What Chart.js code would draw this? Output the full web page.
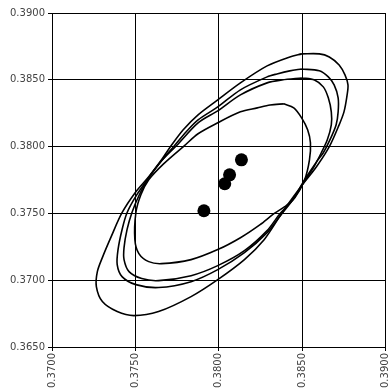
<!DOCTYPE html>
<html>
<head>
<meta charset="utf-8">
<script src="https://cdn.jsdelivr.net/npm/chart.js@4.4.0/dist/chart.umd.min.js"></script>
<style>
  html, body { margin: 0; padding: 0; background: #fff; overflow: hidden; }
  #wrap { position: relative; width: 392px; height: 389px; }
</style>
</head>
<body>
<div id="wrap"><canvas id="chart"></canvas></div>
<script>
// tick labels
const xTicks = [0.370, 0.375, 0.380, 0.385, 0.390];
const yTicks = [0.365, 0.370, 0.375, 0.380, 0.385, 0.390];

// the four estimates (filled dots)
const dotX = [0.37911, 0.38036, 0.38065, 0.38136];
const dotY = [0.37520, 0.37722, 0.37789, 0.37901];

// ellipse outlines, outermost first
const ell1X = [0.38497, 0.38603, 0.38663, 0.38722, 0.38757, 0.38775, 0.38769, 0.38751, 0.38722, 0.38663, 0.38586, 0.38497, 0.38426, 0.38361, 0.38272, 0.38154, 0.37994, 0.37834, 0.37639, 0.37491, 0.37391, 0.37302, 0.37266, 0.37272, 0.37302, 0.37355, 0.37420, 0.37503, 0.37580, 0.37657, 0.37710, 0.37787, 0.37876, 0.37994, 0.38130, 0.38290, 0.38426, 0.38497];
const ell1Y = [0.38694, 0.38694, 0.38671, 0.38611, 0.38537, 0.38462, 0.38380, 0.38260, 0.38163, 0.37999, 0.37849, 0.37707, 0.37587, 0.37468, 0.37303, 0.37154, 0.37004, 0.36877, 0.36765, 0.36735, 0.36765, 0.36840, 0.36952, 0.37064, 0.37169, 0.37326, 0.37505, 0.37662, 0.37774, 0.37901, 0.37999, 0.38126, 0.38238, 0.38350, 0.38477, 0.38604, 0.38671, 0.38694];

const ell2X = [0.38497, 0.38603, 0.38657, 0.38692, 0.38716, 0.38716, 0.38704, 0.38675, 0.38627, 0.38586, 0.38515, 0.38444, 0.38373, 0.38290, 0.38154, 0.37994, 0.37834, 0.37639, 0.37503, 0.37420, 0.37391, 0.37396, 0.37420, 0.37450, 0.37509, 0.37580, 0.37657, 0.37734, 0.37805, 0.37876, 0.37994, 0.38130, 0.38290, 0.38349, 0.38426, 0.38497];
const ell2Y = [0.38581, 0.38567, 0.38522, 0.38462, 0.38365, 0.38260, 0.38163, 0.38073, 0.37954, 0.37886, 0.37752, 0.37602, 0.37490, 0.37356, 0.37206, 0.37079, 0.36989, 0.36945, 0.36967, 0.37027, 0.37117, 0.37229, 0.37378, 0.37505, 0.37640, 0.37767, 0.37894, 0.38006, 0.38111, 0.38200, 0.38297, 0.38425, 0.38522, 0.38544, 0.38567, 0.38581];

const ell3X = [0.38497, 0.38574, 0.38627, 0.38657, 0.38675, 0.38675, 0.38651, 0.38615, 0.38568, 0.38509, 0.38444, 0.38367, 0.38290, 0.38154, 0.37994, 0.37834, 0.37639, 0.37538, 0.37462, 0.37432, 0.37432, 0.37450, 0.37479, 0.37521, 0.37580, 0.37657, 0.37746, 0.37876, 0.37994, 0.38130, 0.38290, 0.38379, 0.38497];
const ell3Y = [0.38514, 0.38499, 0.38447, 0.38365, 0.38260, 0.38163, 0.38051, 0.37954, 0.37842, 0.37729, 0.37602, 0.37498, 0.37371, 0.37221, 0.37109, 0.37034, 0.36997, 0.37012, 0.37064, 0.37154, 0.37244, 0.37378, 0.37505, 0.37632, 0.37767, 0.37894, 0.38006, 0.38178, 0.38268, 0.38387, 0.38477, 0.38499, 0.38514];

const ell4X = [0.38390, 0.38450, 0.38497, 0.38533, 0.38550, 0.38544, 0.38515, 0.38456, 0.38396, 0.38331, 0.38248, 0.38130, 0.37994, 0.37834, 0.37657, 0.37580, 0.37521, 0.37497, 0.37503, 0.37533, 0.37580, 0.37669, 0.37793, 0.37876, 0.37994, 0.38130, 0.38231, 0.38308, 0.38390];
const ell4Y = [0.38320, 0.38290, 0.38215, 0.38126, 0.38028, 0.37901, 0.37752, 0.37617, 0.37550, 0.37498, 0.37416, 0.37318, 0.37229, 0.37154, 0.37124, 0.37139, 0.37199, 0.37303, 0.37505, 0.37640, 0.37752, 0.37871, 0.38006, 0.38096, 0.38178, 0.38260, 0.38290, 0.38312, 0.38320];

function toPoints(xs, ys) {
  return xs.map((x, i) => ({ x: x, y: ys[i] }));
}

function ellipse(xs, ys) {
  return {
    data: toPoints(xs, ys),
    showLine: true,
    borderColor: "#000",
    borderWidth: 1.6,
    pointRadius: 0,
    tension: 0.3,
    fill: false
  };
}

const font = { family: "DejaVu Sans", size: 10 };

new Chart(document.getElementById("chart"), {
  type: "scatter",
  data: {
    datasets: [
      {
        data: toPoints(dotX, dotY),
        backgroundColor: "#000",
        borderWidth: 0,
        pointRadius: 6.5
      },
      ellipse(ell1X, ell1Y),
      ellipse(ell2X, ell2Y),
      ellipse(ell3X, ell3Y),
      ellipse(ell4X, ell4Y)
    ]
  },
  options: {
    responsive: true,
    maintainAspectRatio: false,
    animation: false,
    layout: { padding: { top: 13, right: 2, left: 0, bottom: 0 } },
    plugins: { legend: { display: false }, tooltip: { enabled: false } },
    scales: {
      x: {
        min: xTicks[0],
        max: xTicks[xTicks.length - 1],
        afterBuildTicks: s => { s.ticks = xTicks.map(v => ({ value: v })); },
        afterFit: s => { s.height = 42; s.paddingLeft = 0; s.paddingRight = 0; },
        ticks: {
          minRotation: 90,
          maxRotation: 90,
          padding: 2,
          color: "#444",
          font: font,
          callback: v => Number(v).toFixed(4)
        },
        grid: { color: "#000", lineWidth: 1, tickLength: 4 },
        border: { color: "#000", width: 1 }
      },
      y: {
        min: yTicks[0],
        max: yTicks[yTicks.length - 1],
        afterBuildTicks: s => { s.ticks = yTicks.map(v => ({ value: v })); },
        afterFit: s => { s.width = 52; s.paddingTop = 0; s.paddingBottom = 0; },
        ticks: {
          padding: 3,
          color: "#444",
          font: font,
          callback: v => Number(v).toFixed(4)
        },
        grid: { color: "#000", lineWidth: 1, tickLength: 4 },
        border: { color: "#000", width: 1 }
      }
    }
  }
});
</script>
</body>
</html>
